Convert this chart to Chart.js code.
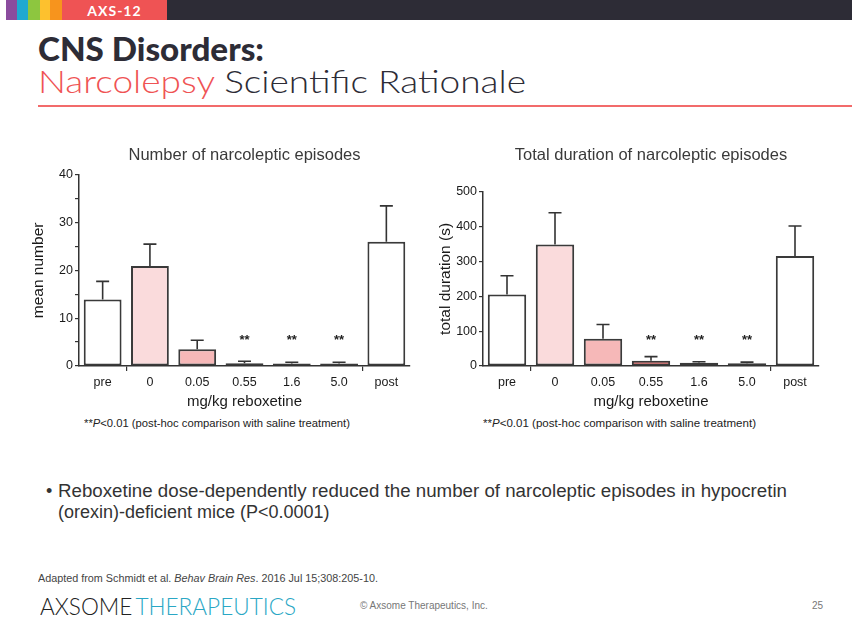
<!DOCTYPE html>
<html><head><meta charset="utf-8">
<script src="https://cdn.jsdelivr.net/npm/chart.js@4.4.1/dist/chart.umd.min.js"></script>
<style>
html,body{margin:0;padding:0;}
body{width:859px;height:635px;background:#fff;position:relative;overflow:hidden;font-family:'Liberation Sans',Arial,sans-serif;}
.abs{position:absolute;white-space:nowrap;}
.fit{transform-origin:0 50%;display:inline-block;}
canvas{position:absolute;}
</style></head><body>
<!-- header band -->
<div class="abs" style="left:6px;top:0;width:11px;height:20px;background:#8B4C9E"></div>
<div class="abs" style="left:17px;top:0;width:11px;height:20px;background:#1FA9D2"></div>
<div class="abs" style="left:28px;top:0;width:12px;height:20px;background:#8DC63F"></div>
<div class="abs" style="left:40px;top:0;width:10px;height:20px;background:#FDC12E"></div>
<div class="abs" style="left:50px;top:0;width:12px;height:20px;background:#F7941D"></div>
<div class="abs" style="left:62px;top:0;width:105px;height:20px;background:#EF5354"></div>
<div class="abs" style="left:167px;top:0;width:685px;height:20px;background:#2D2C36"></div>
<div class="abs" style="left:62px;top:0;width:105px;height:20px;line-height:21px;text-align:center;color:#fff;font-family:Lato,'DejaVu Sans',sans-serif;font-weight:bold;font-size:14px;letter-spacing:1px;">AXS-12</div>

<div class="abs fit" data-w="226" style="left:38px;top:28px;font-family:Lato,'DejaVu Sans',sans-serif;font-weight:900;font-size:33px;line-height:40px;color:#2D2C36;">CNS Disorders:</div>
<div class="abs fit" data-w="488" style="left:38px;top:62px;font-family:Lato,'DejaVu Sans',sans-serif;font-weight:300;font-size:31px;line-height:38px;color:#2D2C36;"><span style="color:#EF5354">Narcolepsy</span> Scientific Rationale</div>
<div class="abs" style="left:38px;top:105px;width:814px;height:2px;background:#F26B6B"></div>

<canvas id="c1" width="400" height="275" style="left:20px;top:140px;width:400px;height:275px"></canvas>
<canvas id="c2" width="400" height="275" style="left:430px;top:140px;width:400px;height:275px"></canvas>

<div class="abs fit" data-w="266" style="left:84px;top:416px;font-size:11px;line-height:14px;color:#222;">**<i>P</i>&lt;0.01 (post-hoc comparison with saline treatment)</div>
<div class="abs fit" data-w="273" style="left:483px;top:416px;font-size:11px;line-height:14px;color:#222;">**<i>P</i>&lt;0.01 (post-hoc comparison with saline treatment)</div>

<div class="abs" style="left:46px;top:481px;font-size:18px;line-height:21px;color:#333;">•</div>
<div class="abs fit" data-w="729" style="left:58px;top:481px;font-size:18px;line-height:21px;color:#333;">Reboxetine dose-dependently reduced the number of narcoleptic episodes in hypocretin</div>
<div class="abs" style="left:58px;top:502px;font-size:18px;line-height:21px;color:#333;">(orexin)-deficient mice (P&lt;0.0001)</div>

<div class="abs fit" data-w="340" style="left:38px;top:572px;font-size:10px;line-height:13px;color:#444;">Adapted from Schmidt et al. <i>Behav Brain Res</i>. 2016 Jul 15;308:205-10.</div>
<div class="abs fit" data-w="256" style="left:40px;top:593px;font-family:Lato,'DejaVu Sans',sans-serif;font-weight:300;font-size:23px;line-height:26px;color:#222;">AXSOME<span style="color:#2AA7C5;margin-left:3px">THERAPEUTICS</span></div>
<div class="abs" style="left:360px;top:599px;font-size:10px;line-height:13px;color:#777;">© Axsome Therapeutics, Inc.</div>
<div class="abs" style="left:812px;top:599px;font-size:10px;line-height:13px;color:#777;">25</div>

<script>
// ---- data ----
const categories = ['pre', '0', '0.05', '0.55', '1.6', '5.0', 'post'];
const episodesMean = [13.9, 20.9, 3.5, 0.6, 0.5, 0.5, 26.0];
const episodesErr  = [17.7, 25.5, 5.4, 1.0, 0.8, 0.8, 33.5];
const durationMean = [205, 349, 78, 15, 9, 8, 316];
const durationErr  = [259, 440, 119, 27, 12, 11, 402];
const significance = ['', '', '', '**', '**', '**', ''];
const episodesAxis = {max: 40, step: 5, labelEvery: 10};
const durationAxis = {max: 500, step: 100, labelEvery: 100};

const leftColors  = ['#FFFFFF', '#FADBDC', '#F6B8B8', '#9A2C36', '#8A2832', '#7E242E', '#FFFFFF'];
const rightColors = ['#FFFFFF', '#FADBDC', '#F6B8B8', '#EE4646', '#C0282D', '#82242C', '#FFFFFF'];

Chart.defaults.font.family = "'Liberation Sans', Arial, sans-serif";
Chart.defaults.color = '#1a1a1a';

const errorBarPlugin = {
  id: 'errorBars',
  afterDatasetsDraw(chart) {
    const ctx = chart.ctx;
    const meta = chart.getDatasetMeta(0);
    const ys = chart.scales.y;
    const errs = chart.data.datasets[0].errors;
    const sig = chart.data.datasets[0].sig;
    ctx.save();
    ctx.strokeStyle = '#333';
    ctx.lineWidth = 1.6;
    meta.data.forEach((bar, i) => {
      const yTop = bar.y;
      const yErr = ys.getPixelForValue(errs[i]);
      ctx.beginPath();
      ctx.moveTo(bar.x, yTop);
      ctx.lineTo(bar.x, yErr);
      ctx.moveTo(bar.x - 6.5, yErr);
      ctx.lineTo(bar.x + 6.5, yErr);
      ctx.stroke();
      if (sig[i]) {
        ctx.fillStyle = '#222';
        ctx.font = "bold 13px 'Liberation Sans', Arial, sans-serif";
        ctx.textAlign = 'center';
        ctx.textBaseline = 'middle';
        ctx.fillText(sig[i], bar.x, ys.getPixelForValue(0) - 26);
      }
    });
    ctx.restore();
  }
};

function makeChart(id, means, errs, colors, axis, title, yTitle, geo) {
  return new Chart(document.getElementById(id), {
    type: 'bar',
    data: {
      labels: categories,
      datasets: [{
        data: means,
        errors: errs,
        sig: significance,
        backgroundColor: colors,
        borderColor: '#3A3A3A',
        borderWidth: 2,
        borderSkipped: false,
        categoryPercentage: 0.8,
        barPercentage: 1.0
      }]
    },
    options: {
      responsive: false,
      animation: false,
      devicePixelRatio: 1,
      layout: {padding: {left: 0, right: geo.right, top: 0, bottom: 0}},
      plugins: {
        legend: {display: false},
        tooltip: {enabled: false},
        title: {
          display: true, text: title, color: '#3A3A3A', fullSize: false,
          font: {size: 16.5, weight: 'normal'},
          padding: {top: 6, bottom: geo.titleBottom}
        }
      },
      scales: {
        x: {
          offset: true,
          afterFit: s => { s.height = 49; },
          grid: {
            offset: true, drawOnChartArea: false, drawTicks: true, tickLength: 5,
            color: c => (c.index === 1 || c.index === 6) ? '#333' : 'rgba(0,0,0,0)',
            lineWidth: 1.2
          },
          border: {display: true, color: '#333', width: 1.5},
          ticks: {color: '#1a1a1a', font: {size: 12.5}, padding: 4, maxRotation: 0, autoSkip: false},
          title: {display: true, text: 'mg/kg reboxetine', color: '#1a1a1a', font: {size: 15}, padding: {top: 2, bottom: 4}}
        },
        y: {
          min: 0, max: axis.max,
          afterFit: s => { s.width = geo.yWidth; },
          grid: {drawOnChartArea: false, drawTicks: true, tickLength: 4, color: '#333', lineWidth: 1.2},
          border: {display: true, color: '#333', width: 1.5},
          ticks: {
            stepSize: axis.step, color: '#1a1a1a', font: {size: 12.5}, padding: 2,
            callback: v => (v % axis.labelEvery === 0 ? v : '')
          },
          title: {display: true, text: yTitle, color: '#1a1a1a', font: {size: 15.5}, padding: {top: geo.yTitlePad, bottom: 0}}
        }
      }
    },
    plugins: [errorBarPlugin]
  });
}

makeChart('c1', episodesMean, episodesErr, leftColors, episodesAxis,
  'Number of narcoleptic episodes', 'mean number',
  {right: 10, titleBottom: 9, yWidth: 59, yTitlePad: 9});
makeChart('c2', durationMean, durationErr, rightColors, durationAxis,
  'Total duration of narcoleptic episodes', 'total duration (s)',
  {right: 11, titleBottom: 26, yWidth: 53, yTitlePad: 6});

function fitText() {
  document.querySelectorAll('.fit').forEach(el => {
    const target = parseFloat(el.dataset.w);
    el.style.transform = 'none';
    const w = el.getBoundingClientRect().width;
    if (w > 0) el.style.transform = 'scaleX(' + (target / w) + ')';
  });
}
fitText();
if (document.fonts && document.fonts.ready) document.fonts.ready.then(fitText);
</script>
</body></html>
